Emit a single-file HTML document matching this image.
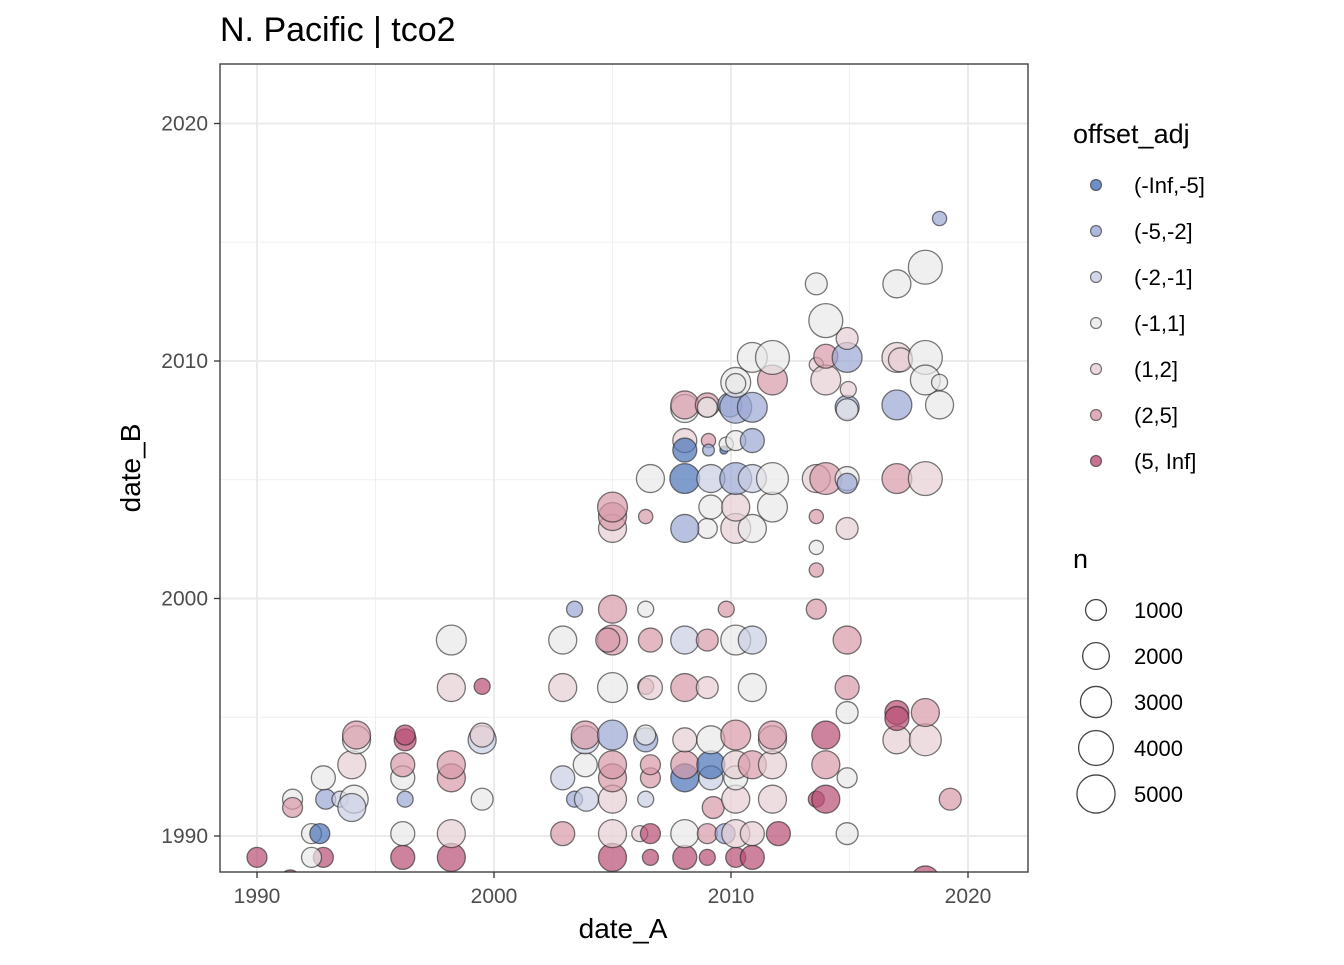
<!DOCTYPE html>
<html><head><meta charset="utf-8"><style>
body{margin:0;background:#fff;font-family:"Liberation Sans",sans-serif;}
</style></head><body>
<svg id="chart" width="1344" height="960" xmlns="http://www.w3.org/2000/svg" font-family="Liberation Sans, sans-serif">
<rect width="1344" height="960" fill="#fff"/>
<text x="220" y="41" font-size="34" fill="#000">N. Pacific | tco2</text>
<defs><clipPath id="pc"><rect x="220" y="64" width="808" height="808"/></clipPath></defs>
<g id="grid"></g>
<g id="pts" clip-path="url(#pc)"></g>
<rect x="220" y="64" width="808" height="808" fill="none" stroke="#333" stroke-width="1.3"/>
<g id="axes"></g>
<text x="623" y="938" font-size="28" text-anchor="middle">date_A</text>
<text transform="translate(140,468) rotate(-90)" font-size="28" text-anchor="middle">date_B</text>
<g id="legend"></g>
</svg>
<script>
const xTicks=[1990,2000,2010,2020];
const yTicks=[1990,2000,2010,2020];
const catLabels=["(-Inf,-5]","(-5,-2]","(-2,-1]","(-1,1]","(1,2]","(2,5]","(5, Inf]"];
const catColors=["#4a72b8","#9aa6d3","#c9cde3","#e8e8e8","#e6cdd3","#d79aa9","#b84f74"];
const sizeBreaks=[1000,2000,3000,4000,5000];
// [date_A, date_B, n, category index]
const dateA=[1990,1992.8,1996.15,1998.2,2005,2006.6,2008.05,2009,2010.2,2010.9,1992.3,2018.2,1991.4,
1992.3,1992.65,1996.15,1998.2,2002.9,2005,2006.15,2006.6,2008.05,2009,2009.75,2010.2,2010.9,2012,2014.9,
1991.5,1991.5,1992.9,1993.5,1994.1,1994,1996.25,1999.5,2003.4,2003.9,2005,2006.4,2009.25,2010.2,2011.75,2013.6,2014,2019.25,
1992.8,1996.15,1998.2,2002.9,2005,2006.6,2008.05,2009.15,2010.2,2014.9,
1994,1996.15,1998.2,2003.85,2005,2006.6,2008.05,2009.15,2010.2,2010.9,2011.75,2014,
1994.2,1994.2,1996.25,1996.25,1999.5,1999.5,2003.85,2003.85,2005,2006.4,2006.4,2008.05,2009.15,2010.2,2011.75,2011.75,2014,2017,2018.2,
2014.9,2017,2017,2018.2,
1998.2,1999.5,2002.9,2005,2006.4,2006.6,2008.05,2009,2010.9,2014.9,
1998.2,2002.9,2005,2004.8,2006.6,2008.05,2009,2010.2,2010.9,2014.9,
2003.4,2005,2006.4,2009.8,2013.6,2013.6,2013.6,
2005,2009,2008.05,2010.2,2010.9,2014.9,2006.4,2013.6,2005,2005,2009.15,2010.2,2011.75,
2006.6,2008.05,2009.15,2010.2,2010.9,2011.75,2013.6,2014,2014.9,2014.9,2017,2018.2,
2008.05,2008.05,2009.05,2009.05,2009.7,2009.8,2010.2,2010.9,
2008.05,2008.05,2009,2009,2009.95,2010.2,2010.9,2010.2,2011.75,2014.9,2014.9,2017,2018.8,2013.6,2014,2014,2014.95,2010.2,
2010.9,2011.75,2014.9,2017,2017.15,2018.2,2018.2,2018.8,2014.9,2014,2013.6,2017,2018.2,2018.8];
const dateB=[1989.1,1989.1,1989.1,1989.1,1989.1,1989.1,1989.1,1989.1,1989.1,1989.1,1989.1,1988.15,1988.15,
1990.1,1990.1,1990.1,1990.1,1990.1,1990.1,1990.1,1990.1,1990.1,1990.1,1990.1,1990.1,1990.1,1990.1,1990.1,
1991.55,1991.2,1991.55,1991.55,1991.55,1991.2,1991.55,1991.55,1991.55,1991.55,1991.55,1991.55,1991.2,1991.55,1991.55,1991.55,1991.55,1991.55,
1992.45,1992.45,1992.45,1992.45,1992.45,1992.45,1992.45,1992.45,1992.45,1992.45,
1993,1993,1993,1993,1993,1993,1993,1993,1993,1993,1993,1993,
1994.05,1994.25,1994.05,1994.25,1994.05,1994.25,1994.05,1994.25,1994.25,1994.05,1994.25,1994.05,1994.05,1994.25,1994.05,1994.25,1994.25,1994.05,1994.05,
1995.2,1995.2,1994.95,1995.2,
1996.25,1996.3,1996.25,1996.25,1996.3,1996.25,1996.25,1996.25,1996.25,1996.25,
1998.25,1998.25,1998.25,1998.25,1998.25,1998.25,1998.25,1998.25,1998.25,1998.25,
1999.55,1999.55,1999.55,1999.55,1999.55,2001.2,2002.15,
2002.95,2002.95,2002.95,2002.95,2002.95,2002.95,2003.45,2003.45,2003.45,2003.85,2003.85,2003.85,2003.85,
2005.05,2005.05,2005.05,2005.05,2005.05,2005.05,2005.05,2005.05,2005.05,2004.85,2005.05,2005.05,
2006.65,2006.25,2006.65,2006.25,2006.25,2006.5,2006.65,2006.65,
2008,2008.15,2008.15,2008.05,2008.15,2008.05,2008.05,2009.1,2009.2,2008.05,2007.95,2008.15,2008.15,2009.85,2009.2,2010.2,2008.8,2009.05,
2010.15,2010.15,2010.15,2010.15,2010.05,2010.15,2009.2,2009.1,2010.95,2011.7,2013.25,2013.25,2013.95,2016];
const sizeN=[870,870,1490,2280,2280,420,1490,420,870,1490,870,2280,870,
870,870,1490,2280,1490,2280,420,870,2280,870,870,2280,1490,1490,1150,
870,870,870,420,2280,2280,420,1150,420,1490,2280,420,1150,2280,2280,420,2280,1150,
1490,1490,2280,1490,2280,870,2280,1490,1490,870,
2280,1490,2280,1490,2280,870,2280,2280,2280,2280,2280,2280,
2280,2280,1150,870,2280,1490,2280,2280,2700,1490,870,1490,2280,2700,2280,2280,2280,2280,3200,
1150,1490,1490,2280,
2280,420,2280,2700,420,1490,2280,1150,2280,1490,
2700,2280,2700,1490,1490,2280,1150,2700,2280,2280,
420,2280,420,420,870,270,270,
2280,870,2280,2700,2280,1150,270,270,2280,2700,1490,2280,2700,
2280,2700,2280,3200,2280,3200,2280,3200,1490,870,2700,3750,
1490,1490,270,120,5,270,870,1490,
2280,2280,1490,870,1490,3200,2700,2700,2700,1490,1150,2700,2280,270,2700,1490,420,870,
2700,3750,2700,2700,1490,3750,2700,420,1150,3750,1150,2280,3750,270];
const catIdx=[6,6,6,6,6,6,6,6,6,6,3,6,6,
3,0,3,4,5,4,4,6,3,5,1,4,4,6,3,
3,5,1,2,3,2,1,3,1,2,4,2,5,4,4,6,6,5,
3,3,5,2,5,5,0,2,3,3,
4,5,5,3,5,5,5,0,4,5,4,5,
3,5,6,6,2,4,2,5,1,1,3,4,3,5,4,5,6,4,4,
3,6,6,5,
4,6,4,3,5,4,5,4,3,5,
3,3,5,5,5,2,5,3,2,5,
1,5,3,5,5,5,3,
4,3,1,4,3,4,5,5,5,5,3,4,3,
3,0,2,1,2,3,4,5,3,1,5,4,
4,0,5,1,0,3,3,1,
3,5,5,3,1,1,1,3,5,1,3,1,3,4,4,5,4,3,
3,3,1,4,4,3,3,3,4,3,3,3,3,1];

const NS="http://www.w3.org/2000/svg";
const X0=220,X1=1028,Y0=64,Y1=872;
function xs(v){return 257+(v-1990)*23.7;}
function ys(v){return 836-(v-1990)*23.75;}
function rs(n){return 3.5+0.22*Math.sqrt(n);}
function mk(t,a,p){const e=document.createElementNS(NS,t);for(const k in a)e.setAttribute(k,a[k]);(p||document.getElementById('chart')).appendChild(e);return e;}

const grid=document.getElementById('grid');
[1995,2005,2015].forEach(v=>{
 let g=mk('line',{x1:xs(v),x2:xs(v),y1:Y0,y2:Y1,stroke:'#f0f0f0','stroke-width':1},grid);
 
 
 let h=mk('line',{x1:X0,x2:X1,y1:ys(v),y2:ys(v),stroke:'#f0f0f0','stroke-width':1},grid);
 
 
});
const axes=document.getElementById('axes');
xTicks.forEach(v=>{
 let g=mk('line',{x1:xs(v),x2:xs(v),y1:Y0,y2:Y1,stroke:'#ebebeb','stroke-width':2},grid);
 
 
 let t=mk('line',{x1:xs(v),x2:xs(v),y1:Y1,y2:Y1+6,stroke:'#333','stroke-width':1.3},axes);
 
 
 let l=mk('text',{x:xs(v),y:903,'font-size':21,fill:'#4d4d4d','text-anchor':'middle'},axes);
 l.textContent=v;
 
 
});
yTicks.forEach(v=>{
 let g=mk('line',{x1:X0,x2:X1,y1:ys(v),y2:ys(v),stroke:'#ebebeb','stroke-width':2},grid);
 
 
 let t=mk('line',{x1:X0-6,x2:X0,y1:ys(v),y2:ys(v),stroke:'#333','stroke-width':1.3},axes);
 
 
 let l=mk('text',{x:X0-12,y:ys(v)+7,'font-size':21,fill:'#4d4d4d','text-anchor':'end'},axes);
 l.textContent=v;
 
 
});
const pts=document.getElementById('pts');
for(let i=0;i<dateA.length;i++){
 let c=mk('circle',{cx:xs(dateA[i]),cy:ys(dateB[i]),r:rs(sizeN[i]),fill:catColors[catIdx[i]],'fill-opacity':0.7,stroke:'#222','stroke-opacity':0.6,'stroke-width':1.3},pts);
 
 
}
const lg=document.getElementById('legend');
let t1=mk('text',{x:1073,y:143,'font-size':27},lg);t1.textContent='offset_adj';


catLabels.forEach((lab,i)=>{
 const y=185+i*46;
 let c=mk('circle',{cx:1096,cy:y,r:5.5,fill:catColors[i],'fill-opacity':0.8,stroke:'#222','stroke-opacity':0.6,'stroke-width':1.2},lg);
 
 
 let t=mk('text',{x:1134,y:y+8,'font-size':22},lg);t.textContent=lab;
 
 
});
let t2=mk('text',{x:1073,y:568,'font-size':27},lg);t2.textContent='n';


sizeBreaks.forEach((n,i)=>{
 const y=610+i*46;
 let c=mk('circle',{cx:1096,cy:y,r:rs(n),fill:'none',stroke:'#444','stroke-width':1.3},lg);
 
 
 let t=mk('text',{x:1134,y:y+8,'font-size':22},lg);t.textContent=n;
 
 
});
</script>
</body></html>
